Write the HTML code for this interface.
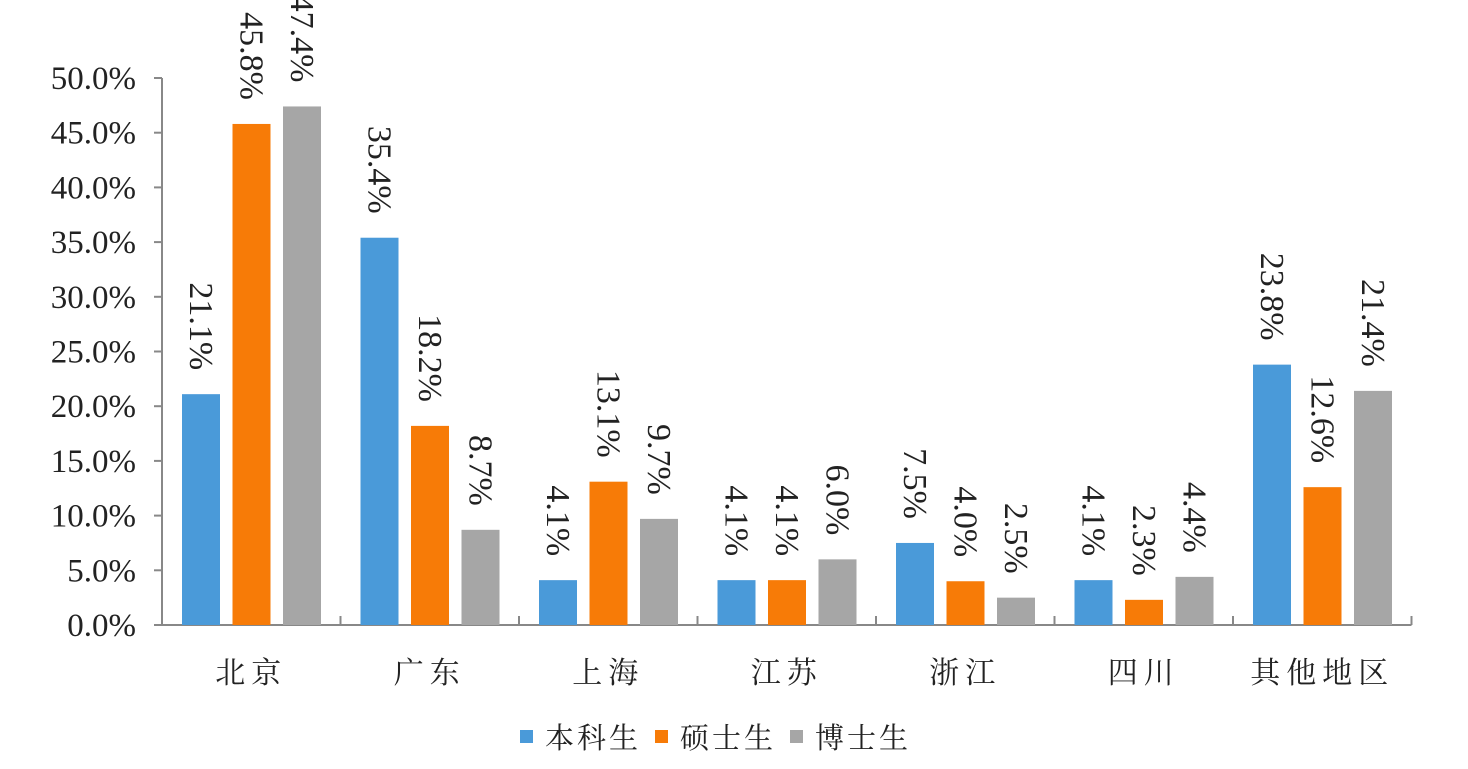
<!DOCTYPE html>
<html><head><meta charset="utf-8"><style>
body{margin:0;background:#fff;}
svg text{font-family:"Liberation Serif","Noto Serif CJK SC",serif;fill:#222;}
</style></head><body>
<svg id="chart" width="1468" height="764" xmlns="http://www.w3.org/2000/svg"></svg>
<script>
const categories=["北京","广东","上海","江苏","浙江","四川","其他地区"];
const undergrad=[21.1,35.4,4.1,4.1,7.5,4.1,23.8];
const master=[45.8,18.2,13.1,4.1,4.0,2.3,12.6];
const doctor=[47.4,8.7,9.7,6.0,2.5,4.4,21.4];
const yTicks=[0,5,10,15,20,25,30,35,40,45,50];
const seriesNames=["本科生","硕士生","博士生"];
const colors=["#4a9ad9","#f77b07","#a6a6a6"];
const svg=document.getElementById('chart');
const NS="http://www.w3.org/2000/svg";
const x0=162,catW=178.5,y0=625,pxPer=(625-78)/50;
const yS=v=>y0-v*pxPer;
function mk(t,a,p){const e=document.createElementNS(NS,t);for(const k in a)e.setAttribute(k,a[k]);(p||svg).appendChild(e);return e;}
const axes=mk('g',{});


mk('line',{x1:x0,y1:yS(50),x2:x0,y2:y0,stroke:'#888','stroke-width':2},axes);
mk('line',{x1:x0-8,y1:y0,x2:x0+7*catW,y2:y0,stroke:'#888','stroke-width':2},axes);
yTicks.forEach(v=>{
  mk('line',{x1:x0-8,y1:yS(v),x2:x0,y2:yS(v),stroke:'#888','stroke-width':2},axes);
  const t=mk('text',{x:136,y:yS(v)+11,'text-anchor':'end','font-size':33},axes);
  t.textContent=v.toFixed(1)+'%';
  
  
});
for(let i=0;i<=7;i++) mk('line',{x1:x0+i*catW,y1:y0,x2:x0+i*catW,y2:y0-9,stroke:'#888','stroke-width':2},axes);
const series=[undergrad,master,doctor];
categories.forEach((c,i)=>{
  const cx=x0+i*catW;
  const t=mk('text',{x:cx+catW/2,y:683,'text-anchor':'middle','font-size':30,'letter-spacing':6});
  t.textContent=c;
  
  
  series.forEach((s,j)=>{
    const v=s[i];const bx=cx+20+j*50.5;
    const r=mk('rect',{x:bx,y:yS(v),width:38,height:y0-yS(v),fill:colors[j]});
    
    
    const lx=bx+19-11,ly=yS(v)-24;
    const l=mk('text',{x:0,y:0,'font-size':34,'text-anchor':'end',transform:`translate(${lx},${ly}) rotate(90)`});
    l.textContent=v.toFixed(1)+'%';
    
    
  });
});
const leg=mk('g',{});


seriesNames.forEach((n,j)=>{
  const lx=520+j*135;
  mk('rect',{x:lx,y:730,width:13,height:13,fill:colors[j]},leg);
  const t=mk('text',{x:lx+25,y:748,'font-size':29,'letter-spacing':3},leg);
  t.textContent=n;
  
  
});
</script>
</body></html>
